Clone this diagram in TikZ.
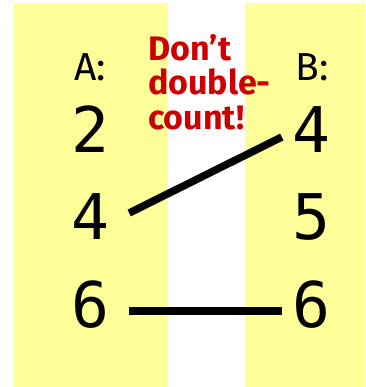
\documentclass[tikz,border=0pt]{standalone}
\usepackage{fontspec}
\setmainfont{Fira Sans}
\newfontfamily\digitfont{DejaVu Sans Mono}
\definecolor{colyellow}{HTML}{FFFF99}
\definecolor{colred}{HTML}{CC0000}
\begin{document}
\begin{tikzpicture}[x=1pt,y=-1pt,
  lbl/.style={font=\fontsize{39}{39}\selectfont, anchor=base, inner sep=0pt},
  num/.style={font=\digitfont\fontsize{63}{63}\selectfont, anchor=base, inner sep=0pt},
  link/.style={line width=7.5pt}]
\fill[white] (0,0) rectangle (365,387);
\useasboundingbox (0,0) rectangle (365,387);
\fill[colyellow] (14,3) rectangle (168,387);
\fill[colyellow] (245,3) rectangle (365,387);
\node[lbl] (la) at (90,81) {A:};
\node[lbl] (lb) at (312,81) {B:};
\node[num] (a2) at (90,153) {2};
\node[num] (a4) at (90,239) {4};
\node[num] (a6) at (90,327) {6};
\node[num] (b4) at (311,153) {4};
\node[num] (b5) at (311,239) {5};
\node[num] (b6) at (311,327) {6};
\node[anchor=north west, inner sep=0pt, align=left, text=colred,
  font=\bfseries\fontsize{34}{34.5}\selectfont] (note) at (148,34) {Don’t\\double-\\count!};
\draw[link] ([xshift=20pt,yshift=26pt]a4.base east) -- ([xshift=-10pt,yshift=16pt]b4.base west);
\draw[link] ([xshift=20pt,yshift=16pt]a6.base east) -- ([xshift=-10pt,yshift=16pt]b6.base west);
\end{tikzpicture}
\end{document}
